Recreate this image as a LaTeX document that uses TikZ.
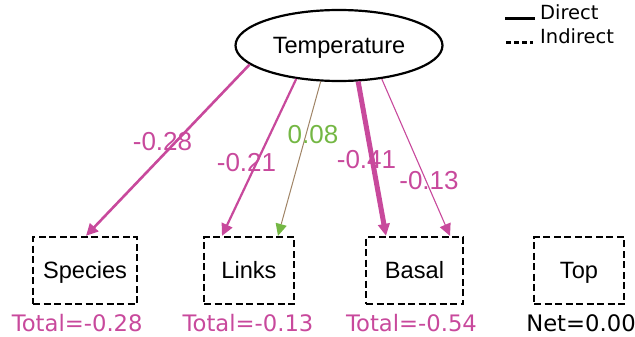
\documentclass[tikz,border=0pt]{standalone}
\usepackage{fontspec}
\setmainfont{DejaVu Sans}
\newfontfamily\arialf{Liberation Sans}
\usetikzlibrary{arrows.meta,calc,shapes.geometric}
\definecolor{pk}{HTML}{C8499C}
\definecolor{gr}{HTML}{74B744}
\definecolor{br}{HTML}{A08466}
\tikzset{
  boxnode/.style={draw=black, line width=2.3pt, dash pattern=on 7pt off 3.5pt, minimum height=67pt, inner sep=0pt, text height=16.9pt, text depth=0pt, font=\arialf\fontsize{23.6}{26}\selectfont},
  totlabel/.style={font=\fontsize{22.7}{26}\selectfont, inner sep=0pt, anchor=base},
  elabel/.style={font=\arialf\fontsize{26}{28}\selectfont, inner sep=0pt, anchor=base},
  parrow/.style={draw=pk, -{Triangle[length=12pt,width=11.5pt,fill=pk]}},
  legtext/.style={font=\fontsize{19.5}{22}\selectfont, anchor=base west, inner sep=0pt}
}
\begin{document}
\begin{tikzpicture}[x=1pt,y=-1pt]
\useasboundingbox (0,0) rectangle (635,337);
\node[draw, ellipse, line width=2.2pt, minimum width=207pt, minimum height=71pt, inner sep=0pt, text height=16.9pt, text depth=0pt, font=\arialf\fontsize{23.6}{26}\selectfont] (temp) at (339,45.5) {Temperature\hspace{8pt}};
\node[boxnode, minimum width=104pt] (species) at (85,270.5) {Species};
\node[boxnode, minimum width=90pt] (links) at (249,270.5) {Links};
\node[boxnode, minimum width=97pt] (basal) at (414.5,270.5) {Basal};
\node[boxnode, minimum width=90pt] (top) at (579,270.5) {Top};
\node[totlabel, text=pk] (tspecies) at (77.2,331.7) {Total=-0.28};
\node[totlabel, text=pk] (tlinks) at (248,331.7) {Total=-0.13};
\node[totlabel, text=pk] (tbasal) at (411.5,331.7) {Total=-0.54};
\node[totlabel, text=black] (ttop) at (581,331.7) {Net=0.00};
\draw[parrow, line width=2.6pt] (temp.192) -- ([xshift=1pt]species.north);
\draw[parrow, line width=2.2pt] (temp.218) -- ([xshift=-27pt]links.north);
\draw[draw=br, line width=1pt, -{Triangle[length=12pt,width=11.5pt,fill=gr,line width=0pt]}] (temp.243) -- ([xshift=29pt]links.north);
\draw[parrow, line width=5pt] (temp.298) -- ([xshift=-28.5pt]basal.north);
\draw[parrow, line width=1.1pt] (temp.322) -- ([xshift=35.5pt]basal.north);
\node[elabel, text=pk] (l1) at (162.5,150) {-0.28};
\node[elabel, text=pk] (l2) at (246.5,171.7) {-0.21};
\node[elabel, text=gr] (l3) at (313,143) {0.08};
\node[elabel, text=pk] (l4) at (366.5,168) {-0.41};
\node[elabel, text=pk] (l5) at (429,189) {-0.13};
\coordinate (d1) at (505,18.5);
\coordinate (d2) at (535,18.5);
\coordinate (i1) at (506,42.5);
\coordinate (i2) at (533,42.5);
\draw[line width=2.6pt] (d1) -- (d2);
\draw[line width=2.2pt, dash pattern=on 5pt off 3pt] (i1) -- (i2);
\node[legtext] (ldir) at (540,20) {Direct};
\node[legtext] (lind) at (540,44) {Indirect};
\end{tikzpicture}
\end{document}
